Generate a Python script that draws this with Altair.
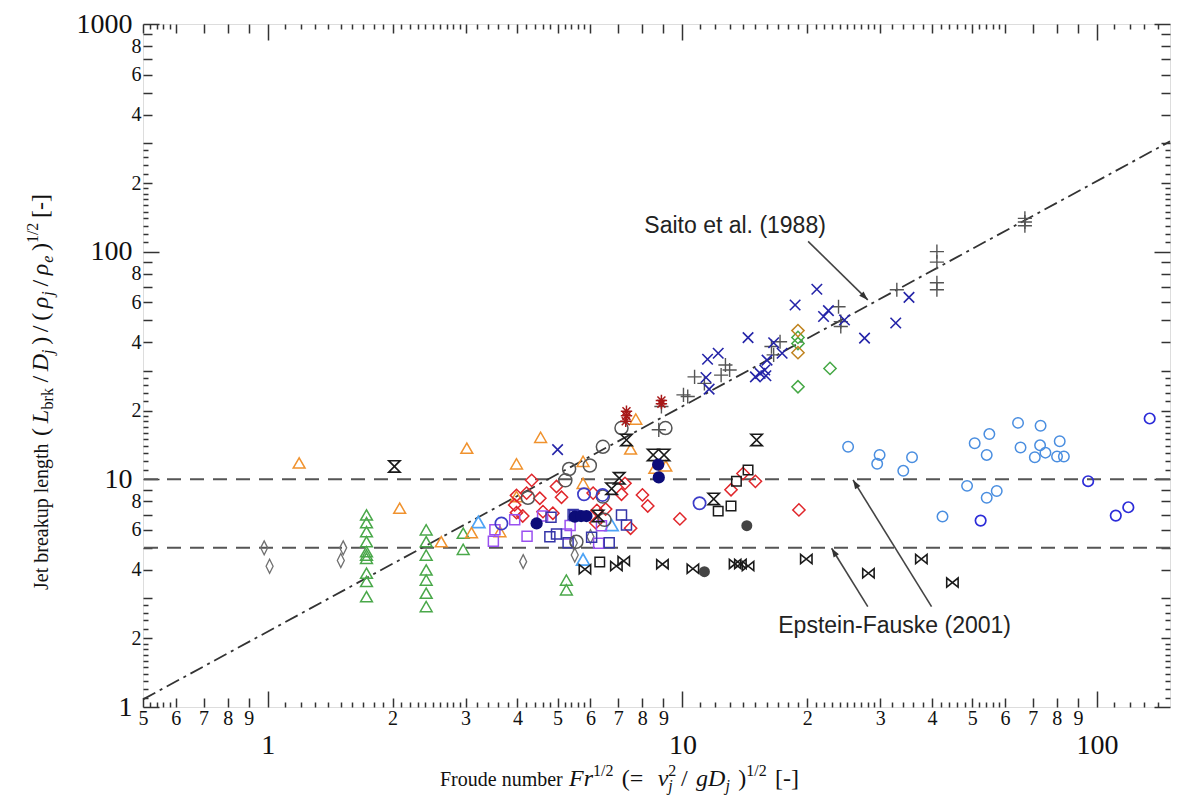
import math
import altair as alt
import pandas as pd

W, H = 1027, 683
X_DOMAIN = [0.5, 150]
Y_DOMAIN = [1, 1000]
SERIF = "Liberation Serif"
SANS = "Liberation Sans"

# ---------------- tick values ----------------
x_major = [1, 10, 100]
x_mid = [0.5, 0.6, 0.7, 0.8, 0.9, 2, 3, 4, 5, 6, 7, 8, 9, 20, 30, 40, 50, 60, 70, 80, 90]
x_minor_base = [1.1, 1.2, 1.3, 1.4, 1.5, 1.6, 1.7, 1.8, 1.9, 2.1, 2.2, 2.3, 2.4, 2.5, 2.6, 2.7, 2.8, 2.9,
                3.2, 3.4, 3.6, 3.8, 4.2, 4.4, 4.6, 4.8, 5.2, 5.4, 5.6, 5.8]
x_minor = sorted(round(b * d, 4) for d in (0.1, 1, 10, 100) for b in x_minor_base if 0.5 < b * d < 150)
y_major = [1, 10, 100, 1000]
y_mid = [2, 3, 4, 5, 6, 7, 8, 9, 20, 30, 40, 50, 60, 70, 80, 90, 200, 300, 400, 500, 600, 700, 800, 900]
y_minor_base = [1.1, 1.2, 1.3, 1.4, 1.5, 1.6, 1.7, 1.8, 1.9, 2.2, 2.4, 2.6, 2.8]
y_minor = [round(b * d, 4) for d in (1, 10, 100) for b in y_minor_base]

# ---------------- data ----------------
gray_diamond_x = [0.98, 1.01, 1.52, 1.50, 4.13, 5.50, 5.47, 6.0]
gray_diamond_y = [5.0, 4.15, 5.0, 4.4, 4.35, 4.65, 5.25, 5.6]

green_tri_x = [1.73, 1.73, 1.73, 1.73, 1.73, 1.73, 1.73, 1.73, 1.73, 1.73,
               2.41, 2.41, 2.41, 2.41, 2.41, 2.41, 2.41, 2.96, 2.96, 5.25, 5.25]
green_tri_y = [6.98, 6.45, 5.89, 5.32, 4.81, 4.65, 4.50, 3.87, 3.56, 3.05,
               6.0, 5.32, 4.65, 4.0, 3.61, 3.16, 2.76, 5.8, 4.93, 3.61, 3.27]

lblue_tri_x = [3.22, 6.75, 5.76]
lblue_tri_y = [6.5, 6.3, 4.45]

orange_tri_x = [1.19, 3.02, 3.98, 2.08, 2.62, 3.10, 3.98, 4.55, 5.76, 5.76, 7.72, 7.5, 8.58, 9.12, 3.63]
orange_tri_y = [11.8, 13.7, 11.7, 7.47, 5.32, 5.83, 8.4, 15.3, 12.0, 9.6, 18.4, 13.6, 11.2, 11.45, 5.9]

hourglass_x = [2.02, 7.33, 8.5, 9.03, 7.04, 6.75, 6.26, 11.9, 15.1]
hourglass_y = [11.4, 14.9, 12.8, 12.8, 10.1, 9.1, 6.9, 8.2, 14.9]

bowtie_x = [5.82, 6.93, 7.22, 8.95, 10.6, 13.4, 13.8, 14.4, 19.9, 28.1, 37.7, 44.8]
bowtie_y = [4.03, 4.16, 4.38, 4.24, 4.05, 4.25, 4.25, 4.16, 4.47, 3.87, 4.47, 3.52]

black_sq_x = [6.32, 12.2, 13.1, 13.5, 14.4]
black_sq_y = [4.33, 7.25, 7.64, 9.8, 11.0]

dgray_dot_x = [11.3, 14.3]
dgray_dot_y = [3.93, 6.26]

navy_dot_x = [4.45, 5.5, 5.7, 5.87, 8.74, 8.77]
navy_dot_y = [6.4, 6.85, 6.9, 6.9, 11.6, 10.2]

red_dia_x = [4.33, 3.98, 4.53, 4.97, 5.11, 3.94, 3.98, 4.12, 4.61, 4.87, 6.09, 6.22, 6.53, 7.13, 7.27,
             7.5, 6.18, 8.01, 8.25, 9.86, 13.1, 14.0, 15.0, 19.1, 4.21]
red_dia_y = [9.9, 8.5, 8.26, 9.3, 8.34, 7.72, 7.14, 6.9, 7.21, 7.1, 8.7, 7.3, 7.4, 8.6, 9.6,
             6.1, 6.45, 8.54, 7.64, 6.7, 9.0, 10.6, 9.8, 7.34, 8.7]

violet_sq_x = [3.53, 3.5, 3.94, 4.22, 5.36, 5.25, 6.28, 6.38, 4.6]
violet_sq_y = [6.0, 5.35, 6.64, 5.62, 6.27, 5.76, 5.24, 6.25, 6.9]

blue_sq_x = [4.82, 5.5, 4.79, 4.97, 5.3, 6.66, 7.13, 7.33, 6.04, 5.45]
blue_sq_y = [6.81, 6.93, 5.6, 5.76, 5.27, 5.27, 6.98, 6.3, 5.57, 7.0]

blue_circ_x = [3.66, 5.79, 6.42, 11.0]
blue_circ_y = [6.4, 8.6, 8.54, 7.85]

gray_circ_x = [4.24, 5.33, 5.98, 6.43, 7.13, 5.22, 6.43, 6.49, 5.55, 9.1]
gray_circ_y = [8.3, 11.1, 11.5, 13.9, 16.8, 9.9, 8.4, 6.64, 5.32, 16.8]

plus_x = [8.9, 10.06, 10.3, 10.7, 11.3, 12.4, 12.7, 13.0, 16.4, 17.2, 16.6, 23.8, 24.1, 24.1, 8.77,
          32.9, 41.1, 41.1, 41.1, 41.1, 67, 67, 67]
plus_y = [20.9, 23.5, 23.1, 28.2, 26.4, 28.7, 31.8, 30.2, 38.3, 40.2, 35.2, 57.3, 49.3, 46.9, 16.5,
          68, 100, 90, 73, 68, 140, 135, 130]

blue_x_x = [21.1, 18.7, 21.9, 22.5, 24.6, 27.5, 14.4, 16.6, 17.4, 16.0, 12.2, 11.5, 15.0, 15.4, 15.8,
            15.9, 11.4, 11.6, 35.2, 32.7, 5.0]
blue_x_y = [68.4, 58.3, 51.9, 55.1, 50.1, 41.7, 41.9, 39.8, 35.8, 33.4, 35.8, 33.7, 28.2, 29.2, 30.2,
            28.5, 28.0, 24.9, 63.0, 48.6, 13.5]

red_ast_x = [7.33, 7.33, 7.3, 8.9, 8.9]
red_ast_y = [19.9, 19.0, 18.0, 22.2, 21.5]

green_dia_x = [19.0, 22.7, 19.0, 19.0]
green_dia_y = [25.5, 30.7, 42.0, 39.5]

olive_dia_x = [19.0, 19.0]
olive_dia_y = [45.0, 36.0]

lblue_circ_x = [25.1, 29.9, 29.5, 34.1, 35.8, 42.4, 48.6, 50.7, 55, 54.2, 54.2, 57.3, 64.5, 65.4,
                73.1, 72.9, 75.1, 70.8, 81.3, 80.1, 83.2]
lblue_circ_y = [13.9, 12.8, 11.7, 10.9, 12.5, 6.86, 9.36, 14.4, 15.8, 12.8, 8.3, 8.89, 17.7, 13.8,
                17.2, 14.1, 13.1, 12.5, 14.7, 12.6, 12.6]

dblue_circ_x = [52.4, 95.2, 111, 119, 134]
dblue_circ_y = [6.59, 9.81, 6.93, 7.54, 18.5]

saito_x = [0.5, 150]
saito_y = [1.08, 305]

limit_y = [5, 10]

arrow_x0 = [20.1, 28.0, 39.9]
arrow_y0 = [111, 2.76, 2.76]
arrow_x1 = [28.0, 22.9, 25.8]
arrow_y1 = [61.4, 4.98, 9.94]

label_text = ["Saito et al. (1988)", "Epstein-Fauske (2001)"]
label_x = [13.4, 32.5]
label_y = [130, 2.27]

# ---------------- shapes ----------------
HOURGLASS = "M-1,-1L1,-1L-1,1L1,1Z"
BOWTIE = "M-1,-0.8L-1,0.8L1,-0.8L1,0.8Z"
PLUS = "M-1,0L1,0M0,-1L0,1"
XMARK = "M-1,-1L1,1M-1,1L1,-1"
AST = "M-1,0L1,0M0,-1L0,1M-0.7,-0.7L0.7,0.7M-0.7,0.7L0.7,-0.7"
THIN_DIAMOND = "M0,-1L0.5,0L0,1L-0.5,0Z"
HEAD = "M0,0L-0.35,1L0.35,1Z"

xs = alt.Scale(type="log", domain=X_DOMAIN, nice=False)
ys = alt.Scale(type="log", domain=Y_DOMAIN, nice=False)


def series(xv, yv, shape, color, size, filled=False, sw=1.5):
    df = pd.DataFrame({"x": xv, "y": yv})
    return alt.Chart(df).mark_point(shape=shape, color=color, size=size, filled=filled,
                                    strokeWidth=sw, opacity=1).encode(
        x=alt.X("x:Q", scale=xs, axis=None),
        y=alt.Y("y:Q", scale=ys, axis=None))


axis_df = pd.DataFrame({"x": [1.0], "y": [1.0]})


def axis_layer(xaxis, yaxis):
    return alt.Chart(axis_df).mark_point(opacity=0).encode(
        x=alt.X("x:Q", scale=xs, axis=xaxis),
        y=alt.Y("y:Q", scale=ys, axis=yaxis))


DIGIT = "round(datum.value / pow(10, floor(log(datum.value) / LN10 + 1e-6)))"
EVEN = "(" + DIGIT + ") % 2 == 0 ? " + DIGIT + " : ''"
PLAIN = "format(datum.value, 'd')"

common = dict(grid=False, title=None, domain=False)


def label_axis(orient, values, expr, size, pad):
    return alt.Axis(orient=orient, values=values, labelFontSize=size, labelPadding=pad,
                    ticks=False, tickSize=0, labelFont=SERIF, labelColor="#111", labelExpr=expr,
                    labelOverlap=False, labelFlush=False, labelBound=False, **common)


def tick_axis(orient, values, size, offset):
    return alt.Axis(orient=orient, values=values, labels=False, ticks=True, tickSize=size,
                    tickColor="#333", tickWidth=1.5, offset=offset, **common)


layers = []
layers.append(axis_layer(label_axis("bottom", x_mid, DIGIT, 20, 1),
                         label_axis("left", y_mid, EVEN, 20, 2)))
layers.append(axis_layer(label_axis("bottom", x_major, PLAIN, 28, 24),
                         label_axis("left", y_major, PLAIN, 28, 11)))
for vals_x, vals_y, L in ((x_major, y_major, 16), (x_mid, y_mid, 9), (x_minor, y_minor, 5)):
    # bottom & left frame, ticks pointing inward
    layers.append(axis_layer(tick_axis("top", vals_x, L, -H), tick_axis("right", vals_y, L, -W)))
    # top & right frame, ticks pointing inward
    layers.append(axis_layer(tick_axis("bottom", vals_x, L, -H), tick_axis("left", vals_y, L, -W)))

# reference lines
layers.append(alt.Chart(pd.DataFrame({"y": limit_y})).mark_rule(
    color="#555", strokeWidth=2, strokeDash=[14, 9]).encode(y=alt.Y("y:Q", scale=ys, axis=None)))
layers.append(alt.Chart(pd.DataFrame({"x": saito_x, "y": saito_y})).mark_line(
    color="#333", strokeWidth=1.8, strokeDash=[14, 5, 3, 5]).encode(
    x=alt.X("x:Q", scale=xs, axis=None), y=alt.Y("y:Q", scale=ys, axis=None)))

# data series
layers += [
    series(gray_diamond_x, gray_diamond_y, THIN_DIAMOND, "#707070", 196, sw=1.3),
    series(green_tri_x, green_tri_y, "triangle-up", "#4aa84a", 140),
    series(lblue_tri_x, lblue_tri_y, "triangle-up", "#4da3f5", 170, sw=1.7),
    series(orange_tri_x, orange_tri_y, "triangle-up", "#f0922e", 140),
    series(red_dia_x, red_dia_y, "diamond", "#e0262b", 150),
    series(violet_sq_x, violet_sq_y, "square", "#9a50f0", 100),
    series(blue_sq_x, blue_sq_y, "square", "#3535a8", 100),
    series(black_sq_x, black_sq_y, "square", "#1a1a1a", 90),
    series(gray_circ_x, gray_circ_y, "circle", "#555555", 170),
    series(blue_circ_x, blue_circ_y, "circle", "#3c3cc8", 150, sw=1.7),
    series(hourglass_x, hourglass_y, HOURGLASS, "#1a1a1a", 130, sw=1.6),
    series(bowtie_x, bowtie_y, BOWTIE, "#1a1a1a", 130, sw=1.6),
    series(plus_x, plus_y, PLUS, "#555555", 200, sw=1.4),
    series(blue_x_x, blue_x_y, XMARK, "#2424a8", 110, sw=1.6),
    series(red_ast_x, red_ast_y, AST, "#a81818", 130, sw=1.5),
    series(green_dia_x, green_dia_y, "diamond", "#45a845", 150),
    series(olive_dia_x, olive_dia_y, "diamond", "#c08420", 150),
    series(lblue_circ_x, lblue_circ_y, "circle", "#4a8ee0", 110),
    series(dblue_circ_x, dblue_circ_y, "circle", "#2c2cd8", 110, sw=1.7),
    series(navy_dot_x, navy_dot_y, "circle", "#0c0c78", 150, filled=True),
    series(dgray_dot_x, dgray_dot_y, "circle", "#444444", 121, filled=True),
]


# annotations: arrows
def px(v):
    return W * math.log(v / X_DOMAIN[0]) / math.log(X_DOMAIN[1] / X_DOMAIN[0])


def py(v):
    return H * (1 - math.log10(v / Y_DOMAIN[0]) / 3)


angles = [math.degrees(math.atan2(px(b) - px(a), -(py(d) - py(c)))) % 360
          for a, b, c, d in zip(arrow_x0, arrow_x1, arrow_y0, arrow_y1)]
arr = pd.DataFrame({"x": arrow_x0, "y": arrow_y0, "x2": arrow_x1, "y2": arrow_y1, "a": angles})
layers.append(alt.Chart(arr).mark_rule(color="#444", strokeWidth=1.6).encode(
    x=alt.X("x:Q", scale=xs, axis=None), y=alt.Y("y:Q", scale=ys, axis=None),
    x2="x2:Q", y2="y2:Q"))
layers.append(alt.Chart(arr).mark_point(shape=HEAD, filled=True, color="#333", size=320, opacity=1).encode(
    x=alt.X("x2:Q", scale=xs, axis=None), y=alt.Y("y2:Q", scale=ys, axis=None),
    angle=alt.Angle("a:Q", scale=None)))
layers.append(alt.Chart(pd.DataFrame({"x": label_x, "y": label_y, "t": label_text})).mark_text(
    font=SANS, fontSize=23, color="#222").encode(
    x=alt.X("x:Q", scale=xs, axis=None), y=alt.Y("y:Q", scale=ys, axis=None), text="t:N"))


# ---------------- axis titles built from styled pieces ----------------
def seg(text, x, y, size, italic=False, angle=0):
    return alt.Chart(pd.DataFrame({"t": [text]})).mark_text(
        x=x, y=y, align="left", baseline="alphabetic", font=SERIF, fontSize=size,
        fontStyle="italic" if italic else "normal", angle=angle, color="#111").encode(text="t:N")


CW = {" ": 250, "(": 333, ")": 333, "=": 564, "/": 278, "[": 333, "]": 333, "-": 333, "1": 500,
      "2": 500, "b": 500, "r": 389, "k": 500, "e": 444, "j": 278, "L": 580, "D": 722, "ρ": 520,
      "v": 444, "g": 500, "F": 611}

MATH, SMALL = 24, 16


def tw(s, size):
    return sum(CW.get(c, 500) for c in s) * size / 1000


def math_layout(parts, start, end):
    """Positions along the reading direction; extra room is shared out before the
    normal-size pieces, sub/superscripts stay attached to their base."""
    widths = []
    for t, k in parts:
        if k == "stack":
            widths.append(0)
        else:
            widths.append(tw(t, SMALL if k in ("sub", "sup", "sub2") else MATH))
    n_gaps = sum(1 for i, (t, k) in enumerate(parts) if i > 0 and k in ("n", "i"))
    gap = max((end - start - sum(widths)) / max(n_gaps, 1), 0)
    out, pos = [], start
    for i, ((t, k), w) in enumerate(zip(parts, widths)):
        if i > 0 and k in ("n", "i"):
            pos += gap
        out.append((t, k, pos))
        pos += w
    return out


def place(t, k, along, base, rotated):
    shift = {"sup": -10, "stack": -10, "sub": 5, "sub2": 5}.get(k, 0)
    size = SMALL if k in ("sup", "sub", "stack", "sub2") else MATH
    italic = k in ("i", "sub", "sub2") and t not in ("brk",)
    if rotated:
        return seg(t, base + shift, along, size, italic, angle=270)
    return seg(t, along, base + shift, size, italic)


# x title: reading left-to-right (pixel positions relative to the plot's left edge)
XB = 762
layers.append(seg("Froude number ", 440 - 143, XB, 20))
x_math = [("Fr", "i"), ("1/2", "sup"), (" (=", "n"), ("v", "i"), ("j", "sub2"), ("2", "stack"),
          ("/", "n"), ("gD", "i"), ("j", "sub"), (")", "n"), ("1/2", "sup"), (" [-]", "n")]
fixed = math_layout(x_math, 569 - 143, 805 - 143)
for i, (t, k, p) in enumerate(fixed):
    if k == "stack":
        p = fixed[i - 1][2]
    layers.append(place(t, k, p, XB, rotated=False))

# y title: rotated, reading bottom to top
YB = 48 - 143
layers.append(seg("Jet breakup length ", YB, 590 - 24, 20, angle=270))
y_math = [("(", "n"), ("L", "i"), ("brk", "sub"), ("/", "n"), ("D", "i"), ("j", "sub"), (")", "n"),
          ("/", "n"), ("(", "n"), ("ρ", "i"), ("j", "sub"), ("/", "n"), ("ρ", "i"), ("e", "sub"),
          (")", "n"), ("1/2", "sup"), (" [-]", "n")]
y_start, y_end = 436, 188
for t, k, p in math_layout(y_math, 0, y_start - y_end):
    layers.append(place(t, k, y_start - 24 - p, YB, rotated=True))

chart = alt.layer(*layers).properties(
    width=W, height=H,
    padding={"left": 143, "top": 24, "right": 14, "bottom": 102},
    autosize=alt.AutoSizeParams(type="none"),
).resolve_axis(x="independent", y="independent").configure_view(
    stroke="#333", strokeWidth=2).configure(background="white")

chart.save("out.html", embed_options={"renderer": "svg", "actions": False})
